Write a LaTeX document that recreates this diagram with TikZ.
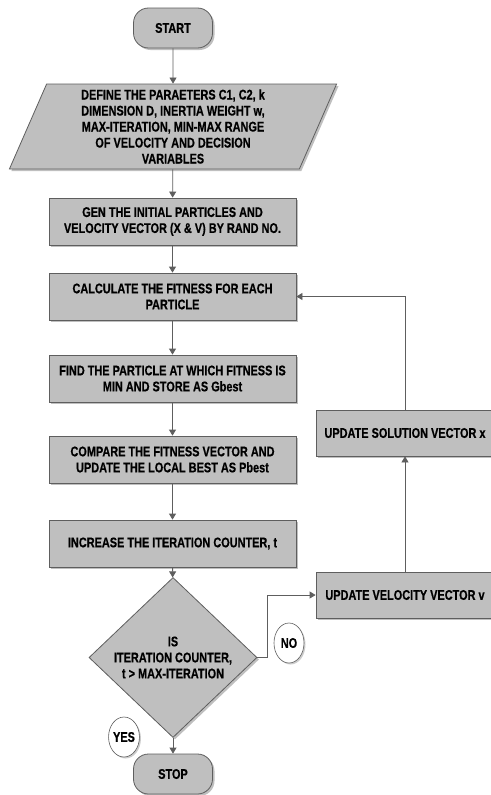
\documentclass[tikz,border=0pt]{standalone}
\usepackage{fontspec}
\setmainfont{Liberation Sans}[FakeStretch=0.78, BoldFeatures={FakeBold=0.6}]
\usetikzlibrary{shapes.geometric,shadows,arrows.meta}
\definecolor{boxgray}{HTML}{BFBFBF}
\definecolor{linegray}{HTML}{5E5E5E}
\tikzset{
  base/.style={draw=linegray, fill=boxgray, line width=0.8pt, font=\bfseries\fontsize{14}{16}\selectfont,
    align=center, inner sep=0pt, drop shadow={shadow xshift=2pt, shadow yshift=-2pt, fill=black!25, opacity=1}},
  terminal/.style={base, rectangle, rounded corners=15pt, minimum width=79pt, minimum height=40pt},
  process/.style={base, rectangle, minimum width=247pt, minimum height=47pt},
  sidebox/.style={base, rectangle, minimum width=178pt, minimum height=46pt},
  answer/.style={draw=linegray, fill=white, ellipse, line width=0.6pt, inner sep=0pt,
    minimum width=30pt, minimum height=40pt, font=\bfseries\fontsize{14}{16}\selectfont,
    drop shadow={shadow xshift=1.5pt, shadow yshift=-1.5pt, fill=black!20, opacity=1}},
  flow/.style={draw=linegray, line width=0.8pt, -{Triangle[width=7pt,length=6pt]}}
}
\begin{document}
\begin{tikzpicture}[x=1pt, y=-1pt]
    \useasboundingbox (0,0) rectangle (490,795);

    % Начало и конец
    \node[terminal] (start) at (173, 28) {START};
    \node[terminal] (stop) at (173, 774) {STOP};

    % Ввод параметров
    \node[base, trapezium, trapezium left angle=70, trapezium right angle=110, trapezium stretches,
      minimum width=328pt, minimum height=85pt] (define) at (173, 126.5)
      {DEFINE THE PARAETERS C1, C2, k\\ DIMENSION D, INERTIA WEIGHT w,\\ MAX-ITERATION, MIN-MAX RANGE\\
       OF VELOCITY AND DECISION\\ VARIABLES};

    % Основные блоки
    \node[process] (gen) at (172.5, 221.5) {GEN THE INITIAL PARTICLES AND\\ VELOCITY VECTOR (X \& V) BY RAND NO.};
    \node[process] (calc) at (172.5, 296.5) {CALCULATE THE FITNESS FOR EACH\\ PARTICLE};
    \node[process] (find) at (172.5, 378.5) {FIND THE PARTICLE AT WHICH FITNESS IS\\ MIN AND STORE AS Gbest};
    \node[process] (compare) at (172.5, 459.5) {COMPARE THE FITNESS VECTOR AND\\ UPDATE THE LOCAL BEST AS Pbest};
    \node[process] (increase) at (172.5, 543.5) {INCREASE THE ITERATION COUNTER, t};

    % Условие
    \node[base, diamond, minimum width=168pt, minimum height=119pt] (decide) at (173, 657.5)
      {IS\\ ITERATION COUNTER,\\ t > MAX-ITERATION};

    % Обновление (справа)
    \node[sidebox] (velo) at (405, 595) {UPDATE VELOCITY VECTOR v};
    \node[sidebox] (solu) at (405, 433) {UPDATE SOLUTION VECTOR x};

    % Метки ДА / НЕТ
    \node[answer] (yes) at (124, 737) {YES};
    \node[answer] (no) at (289, 643) {NO};

    % Стрелки
    \draw[flow] (start) -- (define);
    \draw[flow] (define) -- (gen);
    \draw[flow] (gen) -- (calc);
    \draw[flow] (calc) -- (find);
    \draw[flow] (find) -- (compare);
    \draw[flow] (compare) -- (increase);
    \draw[flow] (increase) -- (decide);
    \draw[flow] (decide) -- (stop);

    \coordinate (noturn) at (267, 657.5);
    \draw[flow] (decide.east) -- (noturn) |- (velo.west);
    \draw[flow] (velo) -- (solu);
    \draw[flow] (solu.north) |- (calc.east);
\end{tikzpicture}
\end{document}
